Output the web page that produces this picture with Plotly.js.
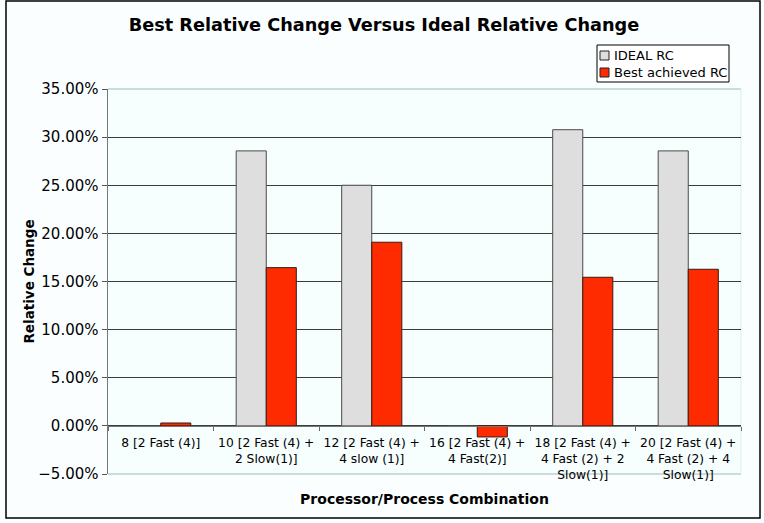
<!DOCTYPE html>
<html>
<head>
<meta charset="utf-8">
<script src="https://cdn.plot.ly/plotly-3.0.1.min.js"></script>
<style>
  html, body { margin: 0; padding: 0; background: #ffffff; }
  #chart { width: 764px; height: 523px; }
</style>
</head>
<body>
<div id="chart"></div>
<script>
// Processor / process combinations (x categories)
const combos = [
  "8 [2 Fast (4)]",
  "10 [2 Fast (4) +<br>2 Slow(1)]",
  "12 [2 Fast (4) +<br>4 slow (1)]",
  "16 [2 Fast (4) +<br>4 Fast(2)]",
  "18 [2 Fast (4) +<br>4 Fast (2) + 2<br>Slow(1)]",
  "20 [2 Fast (4) +<br>4 Fast (2) + 4<br>Slow(1)]"
];

// Relative change, as fractions
const idealRC = [0, 0.2857, 0.25, 0, 0.3077, 0.2857];
const bestRC  = [0.003, 0.1644, 0.1908, -0.0115, 0.1544, 0.1627];

const seriesNames = ["IDEAL RC", "Best achieved RC"];
const seriesFill  = ["#DEDEDE", "#FF2B00"];
const seriesEdge  = ["#4a4a4a", "#3a1a10"];

// plot area in pixels: left 108, right 741, top 89, bottom 474
const L = 108, R = 741, T = 89, B = 474, W = 764, H = 523;
const pw = R - L, ph = B - T;
const px = v => (v - L) / pw;
const py = v => (B - v) / ph;

const traces = [
  {
    type: "bar", name: seriesNames[0], x: combos, y: idealRC,
    marker: { color: seriesFill[0], line: { color: seriesEdge[0], width: 1 } },
    hoverinfo: "skip", showlegend: false
  },
  {
    type: "bar", name: seriesNames[1], x: combos, y: bestRC,
    marker: { color: seriesFill[1], line: { color: seriesEdge[1], width: 1 } },
    hoverinfo: "skip", showlegend: false
  }
];

// compact boxed key in the top-right corner
const keyBox = { x0: 597, x1: 729, y0: 45, y1: 82 };
const keyRows = [55.5, 72.5];
const shapes = [
  // outer frame of the figure
  {
    type: "rect", xref: "paper", yref: "paper",
    x0: px(6), x1: px(760), y0: py(518), y1: py(1),
    line: { color: "#000", width: 1.5 }, fillcolor: "rgba(0,0,0,0)", layer: "above"
  },
  // light edge of the plotting area (top, bottom, right)
  { type: "line", xref: "paper", yref: "paper", x0: 0, x1: 1, y0: 1, y1: 1,
    line: { color: "#B8D2D2", width: 1.5 }, layer: "between" },
  { type: "line", xref: "paper", yref: "paper", x0: 0, x1: 1, y0: 0, y1: 0,
    line: { color: "#B8D2D2", width: 1.5 }, layer: "between" },
  { type: "line", xref: "paper", yref: "paper", x0: 1, x1: 1, y0: 0, y1: 1,
    line: { color: "#DDEEEE", width: 1 }, layer: "between" },
  // key frame
  {
    type: "rect", xref: "paper", yref: "paper",
    x0: px(keyBox.x0), x1: px(keyBox.x1), y0: py(keyBox.y1), y1: py(keyBox.y0),
    line: { color: "#000", width: 1 }, fillcolor: "#FFFFFF", layer: "above"
  }
];
const annotations = [];
seriesNames.forEach((name, i) => {
  const cy = keyRows[i];
  shapes.push({
    type: "rect", xref: "paper", yref: "paper",
    x0: px(600), x1: px(609), y0: py(cy + 4.5), y1: py(cy - 4.5),
    line: { color: "#222", width: 1 }, fillcolor: seriesFill[i], layer: "above"
  });
  annotations.push({
    text: name, xref: "paper", yref: "paper",
    x: px(612), y: py(cy), xanchor: "left", yanchor: "middle",
    showarrow: false, font: { size: 13, color: "#000" }
  });
});

const layout = {
  width: W, height: H,
  margin: { l: L, r: W - R, t: T, b: H - B, pad: 0 },
  paper_bgcolor: "#FAFEFF",
  plot_bgcolor: "#F6FEFE",
  font: { family: "DejaVu Sans, Verdana, sans-serif", color: "#000" },
  barmode: "group",
  bargap: 0.43,
  bargroupgap: 0,
  showlegend: false,
  title: {
    text: "<b>Best Relative Change Versus Ideal Relative Change</b>",
    font: { size: 17.7, family: "DejaVu Sans, Verdana, sans-serif", color: "#000" },
    x: 384 / W, xref: "container", xanchor: "center",
    y: 1 - 25 / H, yref: "container", yanchor: "middle"
  },
  xaxis: {
    type: "category",
    anchor: "free",
    position: 0.125,
    tickson: "boundaries",
    ticks: "outside", ticklen: 4, tickcolor: "#666",
    ticklabelstandoff: 5,
    tickfont: { size: 12.3 },
    showline: true, linecolor: "#777", linewidth: 1.5,
    showgrid: false,
    tickangle: 0,
    automargin: false,
    title: {
      text: "<b>Processor/Process Combination</b>",
      font: { size: 14 },
      standoff: 13
    }
  },
  yaxis: {
    range: [-0.05, 0.35],
    dtick: 0.05,
    tick0: 0,
    tickformat: ".2%",
    ticks: "outside", ticklen: 5, tickcolor: "#555",
    tickfont: { size: 15 },
    showline: true, linecolor: "#777", linewidth: 1.5,
    showgrid: true, gridcolor: "#3c3c3c", gridwidth: 1,
    zeroline: false,
    automargin: false,
    title: {
      text: "<b>Relative Change</b>",
      font: { size: 13.5 },
      standoff: 0
    }
  },
  shapes: shapes,
  annotations: annotations
};

Plotly.newPlot("chart", traces, layout, { staticPlot: true, displayModeBar: false });
</script>
</body>
</html>
